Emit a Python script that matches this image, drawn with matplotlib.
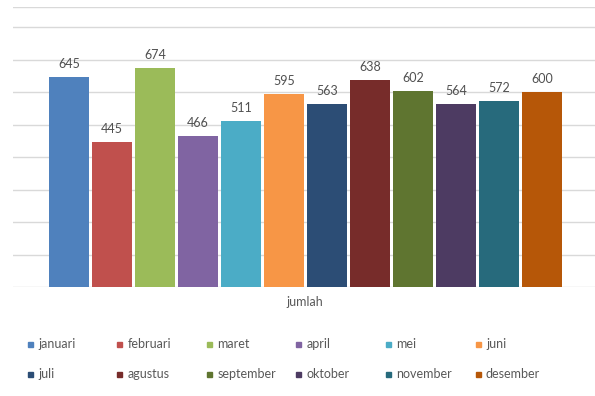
import matplotlib
matplotlib.use("Agg")
import matplotlib.pyplot as plt
from matplotlib.patches import Rectangle

plt.rcParams['font.family'] = ['Lato', 'DejaVu Sans']

months = ['januari', 'februari', 'maret', 'april', 'mei', 'juni',
          'juli', 'agustus', 'september', 'oktober', 'november', 'desember']
values = [645, 445, 674, 466, 511, 595, 563, 638, 602, 564, 572, 600]
colors = ['#4F81BD', '#C0504D', '#9BBB59', '#8064A2', '#4BACC6', '#F79646',
          '#2C4D75', '#772C2A', '#5F7530', '#4D3B62', '#276A7C', '#B65708']
category = 'jumlah'

fig = plt.figure(figsize=(5.95, 3.96), dpi=100)
ax = fig.add_axes([13 / 595, 1 - 287 / 396, 585 / 595, 280 / 396])

grid_col = '#D9D9D9'
for yv in range(0, 900, 100):
    ax.axhline(yv, color=grid_col, lw=1, zorder=0)
ax.axhline(862, color=grid_col, lw=1, zorder=0)

xs = list(range(len(values)))
ax.bar(xs, values, width=0.93, color=colors, zorder=2)
for x, v in zip(xs, values):
    ax.text(x, v + 40, str(v), ha='center', va='center',
            fontsize=9, color='#505050')

ax.set_xlim(-1.3, 12.3)
ax.set_ylim(0, 862)
ax.set_xticks([])
ax.set_yticks([])
for s in ax.spines.values():
    s.set_visible(False)

fig.text(305 / 595, 1 - 302 / 396, category, ha='center', va='center',
         fontsize=9, color='#595959')

# legend, 2 rows x 6 columns
for i, name in enumerate(months):
    col, row = i % 6, i // 6
    xm = (30 + col * 89.6) / 595
    ym = 1 - (344 + row * 30) / 396
    fig.patches.append(Rectangle((xm - 2.5 / 595, ym - 2.5 / 396), 5 / 595, 5 / 396,
                                 transform=fig.transFigure, color=colors[i]))
    fig.text(xm + 8 / 595, ym, name, ha='left', va='center',
             fontsize=9, color='#595959')

fig.savefig('out.png', dpi=100)
